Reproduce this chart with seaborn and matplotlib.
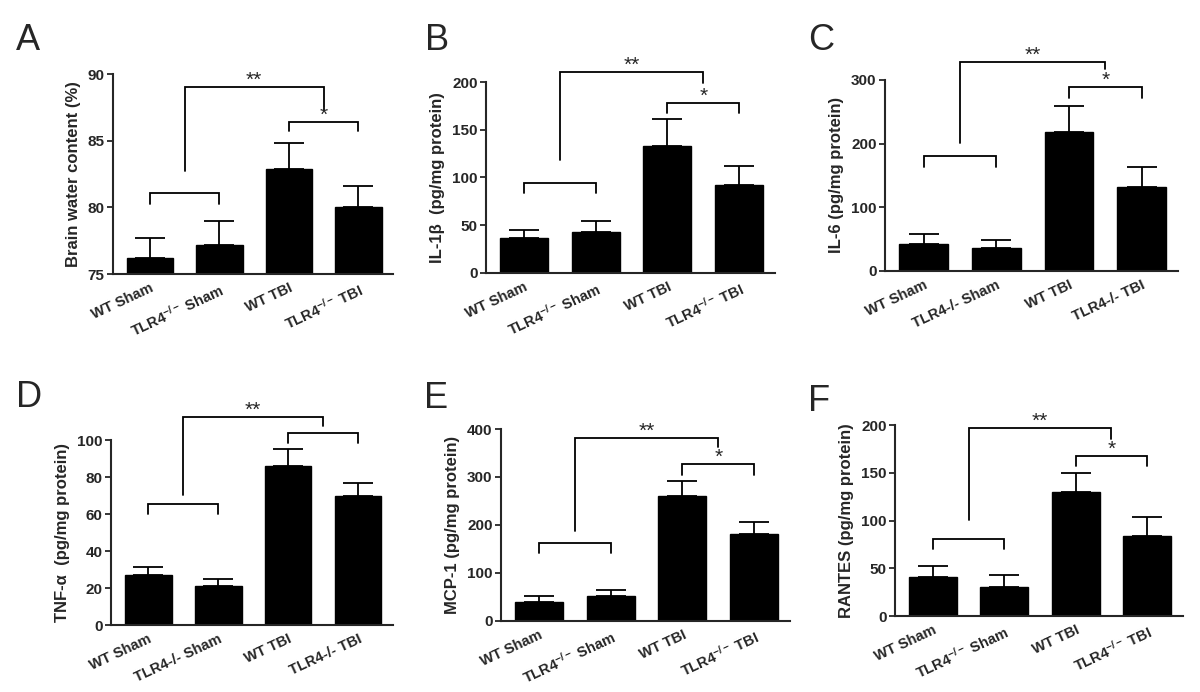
import numpy as np
import pandas as pd
import matplotlib
matplotlib.use("Agg")
import matplotlib.pyplot as plt
import seaborn as sns

# groupes (avec et sans exposant pour TLR4-/-)
groups_sup = ["WT Sham", r"TLR4$^{-/-}$ Sham", "WT TBI", r"TLR4$^{-/-}$ TBI"]
groups_plain = ["WT Sham", "TLR4-/- Sham", "WT TBI", "TLR4-/- TBI"]

# moyennes et SEM
water_mean = [76.2, 77.2, 82.85, 80.05]
water_sem = [1.5, 1.8, 2.0, 1.55]
il1b_mean = [36, 43, 133, 92]
il1b_sem = [9, 11.5, 28, 20]
il6_mean = [41.5, 36, 217.5, 131]
il6_sem = [15.5, 12, 41.5, 31.5]
tnf_mean = [27, 21, 86, 69.7]
tnf_sem = [4.5, 3.7, 9, 7]
mcp1_mean = [40, 51.5, 261, 182]
mcp1_sem = [11.5, 12.5, 31, 24]
rantes_mean = [40.5, 30.7, 129.5, 84]
rantes_sem = [12.2, 12.3, 20, 20]

# crochets de significativité :
# (sham: niveau, bas), (grand: bas gauche, niveau, bas droit), (tbi: niveau, bas), étoile tbi
brackets = {
    "A": [(81.1, 80.25), (82.7, 89.0, 87.3), (86.4, 85.7), "*"],
    "B": [(94.4, 84), (118, 210, 199), (178, 167), "*"],
    "C": [(181, 163.6), (201, 328, 317), (288.6, 271), "*"],
    "D": [(65.2, 60), (70.3, 112.6, 107.6), (103.6, 98.2), ""],
    "E": [(161.5, 140.6), (188, 381, 362), (327, 304), "*"],
    "F": [(80.6, 69.8), (100.5, 196.5, 185.3), (168, 157), "*"],
}

panels = [
    ("A", water_mean, water_sem, groups_sup, "Brain water content (%)", (75, 90), [75, 80, 85, 90]),
    ("B", il1b_mean, il1b_sem, groups_sup, "IL-1β  (pg/mg protein)", (0, 200), [0, 50, 100, 150, 200]),
    ("C", il6_mean, il6_sem, groups_plain, "IL-6 (pg/mg protein)", (0, 300), [0, 100, 200, 300]),
    ("D", tnf_mean, tnf_sem, groups_plain, "TNF-α  (pg/mg protein)", (0, 100), [0, 20, 40, 60, 80, 100]),
    ("E", mcp1_mean, mcp1_sem, groups_sup, "MCP-1 (pg/mg protein)", (0, 400), [0, 100, 200, 300, 400]),
    ("F", rantes_mean, rantes_sem, groups_sup, "RANTES (pg/mg protein)", (0, 200), [0, 50, 100, 150, 200]),
]

# position des axes (fraction de figure) et des lettres
axes_pos = {
    "A": [0.0942, 0.604, 0.2333, 0.289],
    "B": [0.405, 0.6059, 0.2408, 0.2756],
    "C": [0.7375, 0.6088, 0.2442, 0.2756],
    "D": [0.0925, 0.0968, 0.235, 0.2673],
    "E": [0.4175, 0.103, 0.2408, 0.277],
    "F": [0.7458, 0.1098, 0.24, 0.276],
}
letter_pos = {
    "A": (16, 50), "B": (425, 50), "C": (808, 50),
    "D": (16, 407), "E": (424, 408), "F": (808, 411),
}

sns.set_style("ticks")
plt.rcParams["font.family"] = ["Liberation Sans", "DejaVu Sans"]
plt.rcParams["mathtext.fontset"] = "custom"
plt.rcParams["mathtext.rm"] = "Liberation Sans:bold"
plt.rcParams["mathtext.bf"] = "Liberation Sans:bold"
plt.rcParams["mathtext.it"] = "Liberation Sans:bold"

W, H = 1200, 692
fig = plt.figure(figsize=(W / 100, H / 100), dpi=100)

lw = 1.3


def draw_bracket(ax, x0, x1, y_left, y_top, y_right, text):
    ax.plot([x0, x0, x1, x1], [y_left, y_top, y_top, y_right],
            color="black", lw=lw, clip_on=False, solid_joinstyle="miter")
    if text:
        ax.annotate(text, xy=((x0 + x1) / 2, y_top), xytext=(0, -2),
                    textcoords="offset points", ha="center", va="bottom",
                    fontsize=15, annotation_clip=False)


for key, mean, sem, labels, ylabel, ylim, yticks in panels:
    ax = fig.add_axes(axes_pos[key])
    df = pd.DataFrame({"group": labels, "value": mean})
    sns.barplot(data=df, x="group", y="value", color="black", width=0.67,
                saturation=1, edgecolor="black", ax=ax)
    x = np.arange(len(mean))
    ax.errorbar(x, mean, yerr=[np.zeros(len(sem)), sem], fmt="none",
                ecolor="black", elinewidth=lw, capsize=10.5, capthick=lw)

    ax.set_ylim(*ylim)
    ax.set_xlim(-0.53, 3.5)
    ax.set_yticks(yticks)
    ax.set_ylabel(ylabel, fontsize=12, fontweight="bold", labelpad=5)
    ax.set_xlabel("")
    ax.tick_params(axis="y", labelsize=11, width=lw, length=4, direction="out", pad=2)
    ax.tick_params(axis="x", length=0, labelsize=10.5, pad=5)
    for t in ax.get_yticklabels():
        t.set_fontweight("bold")
    ax.set_xticks(x)
    ax.set_xticklabels(labels, rotation=25, ha="right",
                       rotation_mode="anchor", fontweight="bold")
    sns.despine(ax=ax)
    for s in ["left", "bottom"]:
        ax.spines[s].set_linewidth(1.5)

    sham, big, tbi, star = brackets[key]
    draw_bracket(ax, 0, 1, sham[1], sham[0], sham[1], "")
    draw_bracket(ax, 0.5, 2.5, big[0], big[1], big[2], "**")
    draw_bracket(ax, 2, 3, tbi[1], tbi[0], tbi[1], star)

    lx, ly = letter_pos[key]
    fig.text(lx / W, 1 - ly / H, key, fontsize=26, ha="left", va="baseline")

fig.savefig("out.png", dpi=100)
